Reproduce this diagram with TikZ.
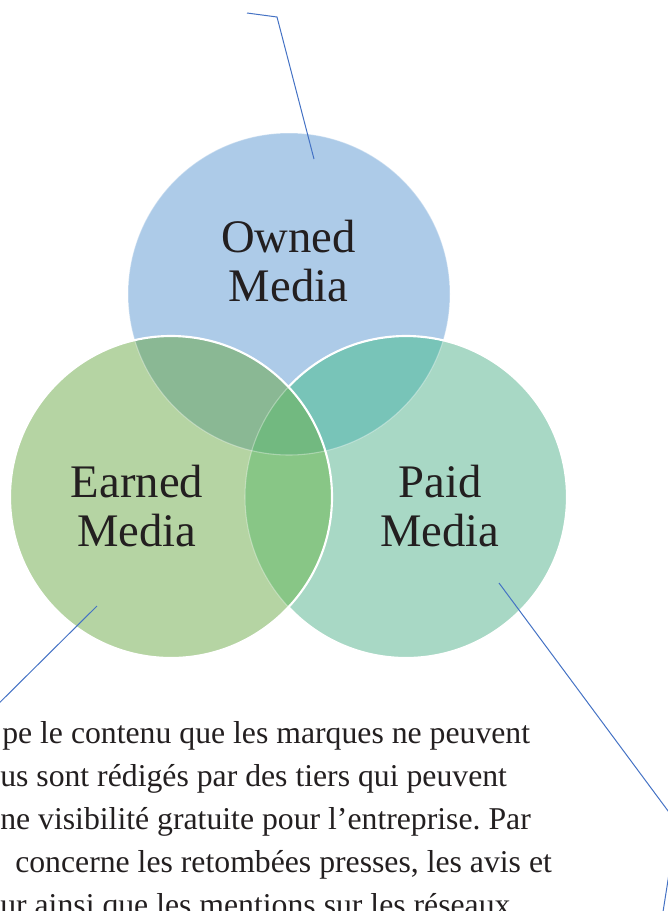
\documentclass[tikz,border=0pt]{standalone}
\usepackage{fontspec}
\setmainfont{Liberation Serif}
\definecolor{ownedc}{HTML}{ADCBE8}
\definecolor{earnedc}{HTML}{B5D4A3}
\definecolor{paidc}{HTML}{A8D8C5}
\definecolor{oec}{HTML}{8AB894}
\definecolor{opc}{HTML}{78C4B8}
\definecolor{epc}{HTML}{88C686}
\definecolor{oepc}{HTML}{72B980}
\definecolor{leaderc}{HTML}{4472C4}
\definecolor{txtc}{HTML}{231F20}
\frenchspacing
\begin{document}
\begin{tikzpicture}[x=0.75pt,y=-0.75pt,
  bigtxt/.style={align=center,text=txtc,font=\fontsize{35}{36.75}\selectfont,inner sep=0pt},
  bodytxt/.style={anchor=base west,text=txtc,font=\fontsize{23.8}{32}\selectfont,inner sep=0pt},
  leaderline/.style={draw=leaderc,line width=0.75pt},
  brightedge/.style={draw=white,line width=1.6pt},
  faintedge/.style={draw=white,draw opacity=0.35,line width=0.8pt}]
\useasboundingbox (0,0) rectangle (668,911);
\clip (0,0) rectangle (668,911);
\def\R{120.75pt}
\coordinate (co) at (289,294);
\coordinate (ce) at (171,497);
\coordinate (cp) at (406,497);
% region fills
\fill[ownedc] (co) circle[radius=\R];
\fill[paidc] (cp) circle[radius=\R];
\fill[earnedc] (ce) circle[radius=\R];
\begin{scope}\clip (co) circle[radius=\R]; \fill[oec] (ce) circle[radius=\R];\end{scope}
\begin{scope}\clip (co) circle[radius=\R]; \fill[opc] (cp) circle[radius=\R];\end{scope}
\begin{scope}\clip (ce) circle[radius=\R]; \fill[epc] (cp) circle[radius=\R];\end{scope}
\begin{scope}\clip (co) circle[radius=\R]; \clip (ce) circle[radius=\R]; \fill[oepc] (cp) circle[radius=\R];\end{scope}
\path[faintedge] (co) circle[radius=\R];
\path[brightedge] (cp) circle[radius=\R];
\begin{scope}
  \clip (ce) circle[radius=\R];
  \fill[earnedc] (ce) circle[radius=\R];
  \begin{scope}\clip (co) circle[radius=\R]; \fill[oec] (ce) circle[radius=\R];\end{scope}
  \fill[epc] (cp) circle[radius=\R];
  \begin{scope}\clip (co) circle[radius=\R]; \fill[oepc] (cp) circle[radius=\R];\end{scope}
  \path[faintedge] (co) circle[radius=\R];
  \path[faintedge] (cp) circle[radius=\R];
\end{scope}
\path[brightedge] (ce) circle[radius=\R];
% labels
\node[bigtxt] (owned) at (288.5,261) {Owned\\Media};
\node[bigtxt] (earned) at (137,506) {Earned\\Media};
\node[bigtxt] (paid) at (440,506) {Paid\\Media};
% leaders
\coordinate (oA) at (314,159);
\coordinate (oB) at (277,17);
\coordinate (oC) at (247,13);
\draw[leaderline] (oA) -- (oB) -- (oC);
\coordinate (eA) at (97,606);
\coordinate (eB) at (-30,732);
\draw[leaderline] (eA) -- (eB);
\coordinate (pA) at (499,583);
\coordinate (pB) at (677,823);
\coordinate (pC) at (657,950);
\draw[leaderline] (pA) -- (pB) -- (pC);
% body text
\node[bodytxt] (t1) at (2,743) {pe le contenu que les marques ne peuvent};
\node[bodytxt] (t2) at (0,786) {us sont rédigés par des tiers qui peuvent};
\node[bodytxt] (t3) at (0,829) {ne visibilité gratuite pour l’entreprise. Par};
\node[bodytxt] (t4) at (15,872) {concerne les retombées presses, les avis et};
\node[bodytxt] (t5) at (0,915) {ur ainsi que les mentions sur les réseaux};
\end{tikzpicture}
\end{document}
